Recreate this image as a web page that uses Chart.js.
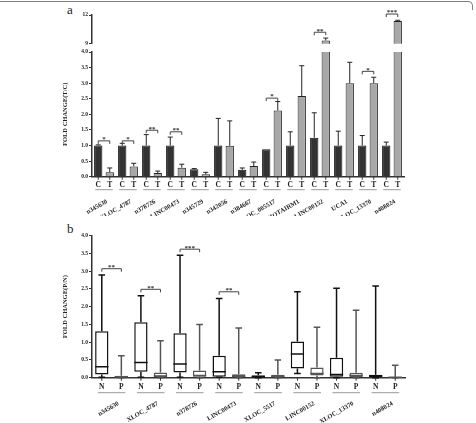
<!DOCTYPE html>
<html><head><meta charset="utf-8">
<script src="https://cdn.jsdelivr.net/npm/chart.js@4"></script>
<style>
html,body{margin:0;padding:0;background:#fff;}
#wrap{position:relative;width:476px;height:423px;overflow:hidden;background:#fff;}
canvas{position:absolute;left:0;}
#frame{position:absolute;left:-2px;top:1px;width:474px;height:8px;border-top:1.5px solid #808080;border-right:1.5px solid #808080;border-top-right-radius:5px;}
.plabel{position:absolute;font-family:'Liberation Serif',serif;font-size:13px;color:#222;line-height:1;}
</style></head>
<body>
<div id="wrap">
  <div id="frame"></div>
  <div class="plabel" style="left:67px;top:3px;">a</div>
  <div class="plabel" style="left:67px;top:222px;">b</div>
  <canvas id="aUp" width="476" height="48" style="top:0px;width:476px;height:48px;"></canvas>
  <canvas id="aLow" width="476" height="176" style="top:46px;width:476px;height:176px;"></canvas>
  <canvas id="bBox" width="476" height="207" style="top:216px;width:476px;height:207px;"></canvas>
</div>
<script>
// ---------- Panel a data ----------
const genesA = ['n345630','XLOC_4787','n378726','LINC00473','n345729','n342056','n384667','XLOC_005517','HOTAIRM1','LINC00152','UCA1','XLOC_13370','n408024'];
const controlMean = [1.0, 1.0, 1.0, 1.0, 0.24, 1.0, 0.22, 0.88, 1.0, 1.25, 1.0, 1.0, 1.0];
const controlSD   = [0.02, 0.07, 0.35, 0.27, 0.02, 0.87, 0.06, 0, 0.44, 0.80, 0.46, 0.32, 0.11];
const tumorMean   = [0.14, 0.33, 0.12, 0.29, 0.08, 0.99, 0.34, 2.12, 2.59, 9.34, 3.0, 3.0, 11.38];
const tumorSD     = [0.14, 0.10, 0.06, 0.11, 0.06, 0.80, 0.13, 0.29, 0.97, 0.25, 0.67, 0.19, 0.07];
const sigA        = ['*', '*', '**', '**', '', '', '', '*', '', '**', '', '*', '***'];
const sigAY       = [1.15, 1.15, 1.49, 1.44, null, null, null, 2.52, null, 10.2, null, 3.38, 12.1];
const yTicksLow   = [0, 4, 0.5];   // min, max, step
const yTicksUp    = [9, 12, 3];

// ---------- Panel b data ----------
const genesB = ['n345630','XLOC_4787','n378726','LINC00473','XLOC_5517','LINC00152','XLOC_13370','n408024'];
const nMin = [0.01, 0.01, 0.01, 0.01, 0.0, 0.12, 0.0, 0.0];
const nQ1  = [0.09, 0.17, 0.15, 0.03, 0.01, 0.26, 0.03, 0.02];
const nMed = [0.31, 0.43, 0.385, 0.17, 0.03, 0.67, 0.09, 0.05];
const nQ3  = [1.31, 1.56, 1.25, 0.62, 0.07, 1.02, 0.56, 0.08];
const nMax = [2.89, 2.31, 3.45, 2.23, 0.14, 2.42, 2.52, 2.58];
const pMin = [0, 0, 0, 0, 0, 0, 0, 0];
const pQ1  = [0.01, 0.02, 0.03, 0.01, 0.01, 0.06, 0.01, 0.0];
const pMed = [0.03, 0.05, 0.06, 0.04, 0.04, 0.12, 0.06, 0.01];
const pQ3  = [0.056, 0.15, 0.2, 0.1, 0.08, 0.29, 0.14, 0.02];
const pMax = [0.62, 1.04, 1.5, 1.4, 0.5, 1.42, 1.9, 0.35];
const sigB  = ['**', '**', '***', '**', '', '', '', ''];
const sigBY = [3.07, 2.49, 3.62, 2.42, null, null, null, null];

// ---------- shared style ----------
Chart.defaults.font.family = "'Liberation Serif', serif";
Chart.defaults.font.weight = 'bold';
Chart.defaults.color = '#222';
const AX = '#333';

// error bars
const errorPlugin = {id:'errBars', afterDatasetsDraw(chart){
  const ctx = chart.ctx, y = chart.scales.y;
  chart.data.datasets.forEach((ds, i) => {
    const meta = chart.getDatasetMeta(i);
    meta.data.forEach((bar, j) => {
      const v = ds.data[j], e = ds.errors ? ds.errors[j] : 0;
      if (v == null || !e) return;
      if (v > y.max || v < y.min) return;
      const top = v + e;
      const p0 = y.getPixelForValue(v), p1 = y.getPixelForValue(Math.min(top, y.max + 0.2));
      ctx.save();
      ctx.strokeStyle = '#222'; ctx.lineWidth = 1;
      ctx.beginPath();
      ctx.moveTo(bar.x, p0); ctx.lineTo(bar.x, p1);
      ctx.moveTo(bar.x - 2.5, p1); ctx.lineTo(bar.x + 2.5, p1);
      ctx.stroke();
      ctx.restore();
    });
  });
}};

// group letters under bars (from dataset labels), tick marks, underline
const letterPlugin = {id:'letters', afterDraw(chart){
  const o = chart.options.plugins.letters || {};
  if (!o.show) return;
  const ctx = chart.ctx, area = chart.chartArea;
  const m0 = chart.getDatasetMeta(0), m1 = chart.getDatasetMeta(1);
  ctx.save();
  ctx.font = 'bold ' + o.size + "px 'Liberation Serif'";
  ctx.fillStyle = '#222'; ctx.textAlign = 'center'; ctx.textBaseline = 'middle';
  m0.data.forEach((b0, j) => {
    const b1 = m1.data[j];
    [b0, b1].forEach((b, k) => {
      ctx.strokeStyle = AX; ctx.lineWidth = 1;
      ctx.beginPath(); ctx.moveTo(b.x, area.bottom); ctx.lineTo(b.x, area.bottom + 3); ctx.stroke();
      ctx.fillText(chart.data.datasets[k].label, b.x, area.bottom + o.textDy);
    });
    ctx.strokeStyle = '#9a9a9a'; ctx.lineWidth = 1;
    ctx.beginPath(); ctx.moveTo(b0.x - o.ext, area.bottom + o.lineDy); ctx.lineTo(b1.x + o.ext, area.bottom + o.lineDy); ctx.stroke();
  });
  ctx.restore();
}};

// significance brackets
const sigPlugin = {id:'sig', afterDraw(chart){
  const o = chart.options.plugins.sig;
  if (!o) return;
  const ctx = chart.ctx, y = chart.scales.y;
  const m0 = chart.getDatasetMeta(0), m1 = chart.getDatasetMeta(1);
  ctx.save();
  ctx.font = 'bold ' + o.size + "px 'Liberation Serif'";
  ctx.fillStyle = '#333'; ctx.textAlign = 'center'; ctx.textBaseline = 'bottom';
  o.text.forEach((t, j) => {
    const yv = o.y[j];
    if (!t || yv == null || yv < y.min || yv > y.max + 0.5) return;
    const py = y.getPixelForValue(yv);
    const x0 = m0.data[j].x, x1 = m1.data[j].x;
    ctx.strokeStyle = '#444'; ctx.lineWidth = 1;
    ctx.beginPath();
    ctx.moveTo(x0, py + 3); ctx.lineTo(x0, py); ctx.lineTo(x1, py); ctx.lineTo(x1, py + 3);
    ctx.stroke();
    ctx.fillText(t, (x0 + x1) / 2, py + 2);
  });
  ctx.restore();
}};

// box plot whiskers + medians
const boxPlugin = {id:'boxes', afterDatasetsDraw(chart){
  const ctx = chart.ctx, y = chart.scales.y;
  chart.data.datasets.forEach((ds, i) => {
    const meta = chart.getDatasetMeta(i);
    meta.data.forEach((bar, j) => {
      const x = bar.x, hw = bar.width / 2;
      const pMinPx = y.getPixelForValue(ds.mins[j]), pMaxPx = y.getPixelForValue(ds.maxs[j]);
      const pQ1Px = y.getPixelForValue(ds.data[j][0]), pQ3Px = y.getPixelForValue(ds.data[j][1]);
      const pMedPx = y.getPixelForValue(ds.meds[j]);
      ctx.save();
      ctx.strokeStyle = ds.borderColor; ctx.lineWidth = 1.5;
      ctx.beginPath();
      ctx.moveTo(x, pQ3Px); ctx.lineTo(x, pMaxPx);
      ctx.moveTo(x - 3.3, pMaxPx); ctx.lineTo(x + 3.3, pMaxPx);
      ctx.moveTo(x, pQ1Px); ctx.lineTo(x, pMinPx);
      ctx.moveTo(x - 3.3, pMinPx); ctx.lineTo(x + 3.3, pMinPx);
      ctx.moveTo(x - hw, pMedPx); ctx.lineTo(x + hw, pMedPx);
      ctx.stroke();
      ctx.restore();
    });
  });
}};

function yScale(range, fmt, title, showTitle){
  return {
    min: range[0], max: range[1],
    ticks: {stepSize: range[2], callback: fmt, font: {size: 5.5}, padding: 1, color: '#222'},
    grid: {drawOnChartArea: false, tickLength: 3, color: AX, lineWidth: 1},
    border: {color: AX, width: 1.5},
    title: {display: showTitle, text: title, font: {size: 6.5}, color: '#222', padding: {top: 0, bottom: 0}},
    afterFit(s){ s.width = 31; }
  };
}

// ---------- a, upper (broken) segment ----------
new Chart(document.getElementById('aUp'), {
  type: 'bar',
  data: {labels: genesA, datasets: [
    {label: 'C', data: controlMean.map(v => v > yTicksUp[0] ? v : null), errors: controlSD, backgroundColor: '#333', borderColor: '#111', borderWidth: 1},
    {label: 'T', data: tumorMean.map(v => v > yTicksUp[0] ? v : null), errors: tumorSD, backgroundColor: '#a8a8a8', borderColor: '#222', borderWidth: 1}
  ]},
  options: {
    responsive: false, animation: false,
    layout: {padding: {left: 61, right: 72, top: 15, bottom: 4}},
    datasets: {bar: {categoryPercentage: 0.96, barPercentage: 0.72}},
    plugins: {legend: {display: false}, tooltip: {enabled: false},
      sig: {text: sigA, y: sigAY, size: 7}},
    scales: {
      x: {display: false},
      y: yScale(yTicksUp, v => String(v), '', false)
    }
  },
  plugins: [errorPlugin, sigPlugin]
});

// ---------- a, lower segment ----------
new Chart(document.getElementById('aLow'), {
  type: 'bar',
  data: {labels: genesA, datasets: [
    {label: 'C', data: controlMean, errors: controlSD, backgroundColor: '#333', borderColor: '#111', borderWidth: 1},
    {label: 'T', data: tumorMean, errors: tumorSD, backgroundColor: '#a8a8a8', borderColor: '#222', borderWidth: 1}
  ]},
  options: {
    responsive: false, animation: false,
    layout: {padding: {left: 61, right: 72, top: 6, bottom: 6}},
    datasets: {bar: {categoryPercentage: 0.96, barPercentage: 0.72}},
    plugins: {legend: {display: false}, tooltip: {enabled: false},
      letters: {show: true, size: 7.5, textDy: 8, lineDy: 13, ext: 3},
      sig: {text: sigA, y: sigAY, size: 7}},
    scales: {
      x: {grid: {display: false, drawTicks: false}, border: {color: AX, width: 1.5},
          ticks: {autoSkip: false, maxRotation: 30, minRotation: 30, padding: 21, labelOffset: 3, font: {size: 6.5}, color: '#222'},
          afterFit(s){ s.height = 39.3; }},
      y: yScale(yTicksLow, v => v.toFixed(1), 'FOLD CHANGE(T/C)', true)
    }
  },
  plugins: [errorPlugin, letterPlugin, sigPlugin]
});

// ---------- b, box plots ----------
new Chart(document.getElementById('bBox'), {
  type: 'bar',
  data: {labels: genesB, datasets: [
    {label: 'N', data: genesB.map((_, i) => [nQ1[i], nQ3[i]]), mins: nMin, meds: nMed, maxs: nMax,
     backgroundColor: '#fff', borderColor: '#111', borderWidth: 1.5, borderSkipped: false},
    {label: 'P', data: genesB.map((_, i) => [pQ1[i], pQ3[i]]), mins: pMin, meds: pMed, maxs: pMax,
     backgroundColor: '#fff', borderColor: '#555', borderWidth: 1.5, borderSkipped: false}
  ]},
  options: {
    responsive: false, animation: false,
    layout: {padding: {left: 61, right: 71, top: 19.7, bottom: 0}},
    datasets: {bar: {categoryPercentage: 1, barPercentage: 0.68}},
    plugins: {legend: {display: false}, tooltip: {enabled: false},
      letters: {show: true, size: 7.5, textDy: 9, lineDy: 15, ext: 4},
      sig: {text: sigB, y: sigBY, size: 7}},
    scales: {
      x: {grid: {display: false, drawTicks: false}, border: {color: AX, width: 1.5},
          ticks: {autoSkip: false, maxRotation: 30, minRotation: 30, padding: 22, labelOffset: 7, font: {size: 6.5}, color: '#222'},
          afterFit(s){ s.height = 45.3; }},
      y: yScale(yTicksLow, v => v.toFixed(1), 'FOLD CHANGE(P/N)', true)
    }
  },
  plugins: [boxPlugin, letterPlugin, sigPlugin]
});
</script>
</body></html>
